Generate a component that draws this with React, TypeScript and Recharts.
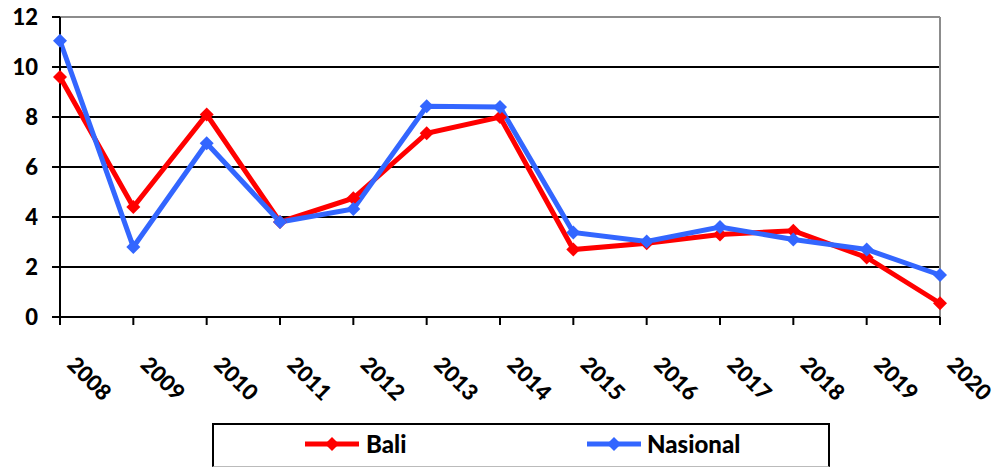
import React from "react";
import { LineChart, Line, XAxis, YAxis, CartesianGrid, ReferenceLine, Legend } from "recharts";

// 2008-2020 values
const years = ["2008", "2009", "2010", "2011", "2012", "2013", "2014", "2015", "2016", "2017", "2018", "2019", "2020"];
const bali = [9.6, 4.4, 8.1, 3.8, 4.75, 7.35, 8.0, 2.7, 2.95, 3.3, 3.45, 2.38, 0.55];
const nasional = [11.05, 2.8, 6.95, 3.8, 4.32, 8.43, 8.4, 3.38, 3.02, 3.6, 3.1, 2.7, 1.68];
const yTicks = [0, 2, 4, 6, 8, 10, 12];

const RED = "#FF0000";
const BLUE = "#3366FF";
const FONT = "Lato, 'Noto Sans', sans-serif";
const WEIGHT = 900;

const data = years.map((year, i) => ({ year, bali: bali[i], nasional: nasional[i] }));

const makeDiamond = (color: string) => (props: any) => {
  const { cx, cy, index } = props;
  if (cx == null || cy == null) return <g key={index} />;
  const r = 7;
  return (
    <polygon
      key={index}
      points={`${cx},${cy - r} ${cx + r},${cy} ${cx},${cy + r} ${cx - r},${cy}`}
      fill={color}
    />
  );
};

const XTick = (props: any) => {
  const { x, y, payload } = props;
  const tx = x + 6;
  const ty = y + 39;
  return (
    <text
      x={tx}
      y={ty}
      transform={`rotate(45, ${tx}, ${ty})`}
      textAnchor="start"
      fill="#000"
      fontSize={22}
      fontWeight={WEIGHT}
      fontFamily={FONT}
    >
      {payload.value}
    </text>
  );
};

const LegendMark = ({ color }: { color: string }) => (
  <svg width={54} height={16} style={{ position: "absolute", top: 11 }}>
    <line x1={0} y1={8} x2={54} y2={8} stroke={color} strokeWidth={5} />
    <polygon points="27,1 34,8 27,15 20,8" fill={color} />
  </svg>
);

const renderLegend = () => (
  <div
    style={{
      position: "relative",
      width: 618,
      height: 44,
      boxSizing: "border-box",
      border: "2px solid #000",
      borderBottom: "1px solid #bbb",
      fontFamily: FONT,
      fontWeight: WEIGHT,
      fontSize: 24,
      color: "#000",
    }}
  >
    <div style={{ position: "absolute", left: 91 }}>
      <LegendMark color={RED} />
    </div>
    <div style={{ position: "absolute", left: 152, top: 4 }}>Bali</div>
    <div style={{ position: "absolute", left: 373 }}>
      <LegendMark color={BLUE} />
    </div>
    <div style={{ position: "absolute", left: 433, top: 4 }}>Nasional</div>
  </div>
);

export default function App() {
  return (
    <div style={{ position: "absolute", top: 0, left: 0, width: 998, height: 469, overflow: "hidden", background: "#fff" }}>
      <LineChart width={998} height={469} data={data} margin={{ top: 17, right: 58, bottom: 92, left: 0 }}>
        <CartesianGrid vertical={false} stroke="#000" strokeWidth={2} />
        <XAxis
          dataKey="year"
          height={60}
          interval={0}
          stroke="#000"
          strokeWidth={2}
          tickSize={8}
          tickLine={{ stroke: "#000", strokeWidth: 2 }}
          tick={<XTick />}
        />
        <YAxis
          width={60}
          domain={[0, 12]}
          ticks={yTicks}
          interval={0}
          stroke="#000"
          strokeWidth={2}
          tickSize={8}
          tickMargin={14}
          tickLine={{ stroke: "#000", strokeWidth: 2 }}
          tick={{ fill: "#000", fontSize: 22, fontWeight: WEIGHT, fontFamily: FONT }}
        />
        <ReferenceLine y={12} stroke="#8c8c8c" strokeWidth={2} />
        <ReferenceLine x="2020" stroke="#8c8c8c" strokeWidth={2} />
        <Legend
          layout="horizontal"
          verticalAlign="middle"
          align="center"
          content={renderLegend}
          wrapperStyle={{ left: 212, top: 423, width: 618, height: 44 }}
        />
        <Line
          dataKey="bali"
          name="Bali"
          stroke={RED}
          strokeWidth={5}
          dot={makeDiamond(RED)}
          activeDot={false}
          isAnimationActive={false}
        />
        <Line
          dataKey="nasional"
          name="Nasional"
          stroke={BLUE}
          strokeWidth={5}
          dot={makeDiamond(BLUE)}
          activeDot={false}
          isAnimationActive={false}
        />
      </LineChart>
    </div>
  );
}
